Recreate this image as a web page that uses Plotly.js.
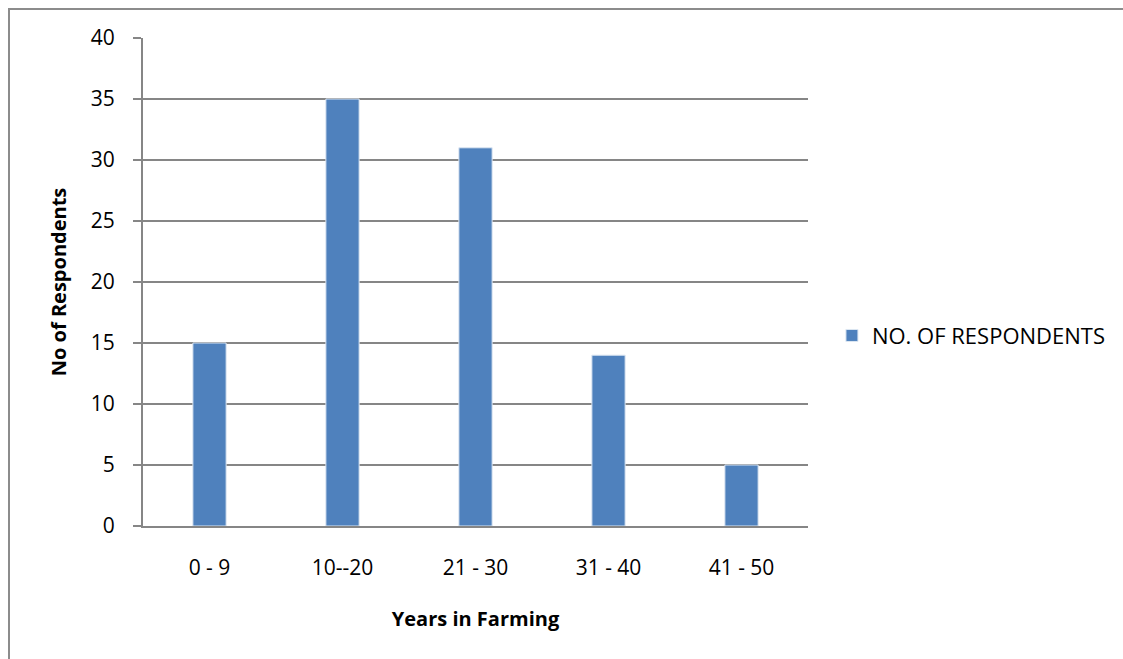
<!DOCTYPE html>
<html>
<head>
<meta charset="utf-8">
<script src="https://cdn.plot.ly/plotly-3.0.1.min.js"></script>
<style>
html,body{margin:0;padding:0;background:#fff;}
#frame{position:absolute;left:8px;top:8px;width:1200px;height:700px;border:2px solid #8c8c8c;box-sizing:border-box;}
#chart{position:absolute;left:0;top:0;width:1123px;height:659px;}
</style>
</head>
<body>
<div id="frame"></div>
<div id="chart"></div>
<script>
const categories = ["0 - 9", "10--20", "21 - 30", "31 - 40", "41 - 50"];
const respondents = [15, 35, 31, 14, 5];
const seriesName = "NO. OF RESPONDENTS";
const yTicks = [0, 5, 10, 15, 20, 25, 30, 35, 40];

const font = "Open Sans, Noto Sans, sans-serif";
const trace = {
  type: "bar",
  x: categories,
  y: respondents,
  name: seriesName,
  width: 0.25,
  marker: {color: "#4f81bd", line: {color: "#dce6f2", width: 1}},
  showlegend: true
};
const layout = {
  width: 1123, height: 659,
  margin: {l: 143, r: 315, t: 38, b: 133},
  paper_bgcolor: "rgba(0,0,0,0)",
  plot_bgcolor: "rgba(0,0,0,0)",
  font: {family: font, size: 20, color: "#000"},
  showlegend: true,
  legend: {x: 1.036, xanchor: "left", y: 0.39, yanchor: "middle", font: {size: 22}, itemwidth: 30, tracegroupgap: 0},
  xaxis: {
    type: "category",
    showline: true, linecolor: "#868686", linewidth: 2,
    ticks: "", tickfont: {size: 21}, ticklabelstandoff: 22,
    title: {text: "<b>Years in Farming</b>", font: {size: 20}, standoff: 32},
    fixedrange: true
  },
  yaxis: {
    range: [0, 40],
    tickvals: yTicks,
    showline: true, linecolor: "#868686", linewidth: 2,
    showgrid: true, gridcolor: "#868686", gridwidth: 2,
    ticks: "outside", ticklen: 8, tickcolor: "#868686", tickwidth: 2,
    tickfont: {size: 21}, ticklabelstandoff: 14,
    zeroline: false,
    title: {text: "<b>No of Respondents</b>", font: {size: 20}, standoff: 19},
    fixedrange: true
  },
  bargap: 0.75
};
Plotly.newPlot("chart", [trace], layout, {displayModeBar: false, staticPlot: true});
</script>
</body>
</html>
